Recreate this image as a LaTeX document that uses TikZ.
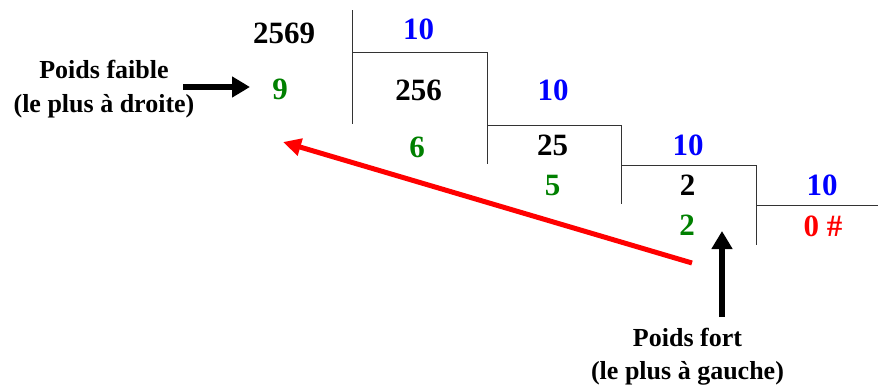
\documentclass[tikz,border=0pt]{standalone}
\usepackage{fontspec}
\setmainfont{Liberation Serif}
\usetikzlibrary{arrows.meta}
\definecolor{nblue}{RGB}{0,0,255}
\definecolor{ngreen}{RGB}{0,128,0}
\definecolor{nred}{RGB}{255,0,0}
\begin{document}
\begin{tikzpicture}[x=1pt,y=-1pt,
  num/.style={anchor=base, inner sep=0pt, font=\fontsize{31}{36}\selectfont\bfseries},
  lab/.style={anchor=base, inner sep=0pt, font=\fontsize{26}{30}\selectfont\bfseries},
  rule/.style={draw=black!80, line width=1pt},
  bigarrow/.style={line width=6pt, -{Triangle[length=18pt,width=20pt]}}]
\useasboundingbox (0,0) rectangle (878,388);

% division brackets
\draw[rule] (352,10) -- (352,124);
\draw[rule] (352,52) -- (487,52) -- (487,164);
\draw[rule] (487,125) -- (621,125) -- (621,204);
\draw[rule] (621,165) -- (756,165) -- (756,245);
\draw[rule] (756,205) -- (878,205);

% numbers
\node[num] (n2569) at (284,43) {2569};
\node[num, text=nblue] (d1) at (418.5,39) {10};
\node[num, text=ngreen] (r1) at (280,99) {9};
\node[num] (q1) at (418.5,100) {256};
\node[num, text=nblue] (d2) at (553,100) {10};
\node[num, text=ngreen] (r2) at (417,157) {6};
\node[num] (q2) at (552.5,155) {25};
\node[num, text=nblue] (d3) at (688,155) {10};
\node[num, text=ngreen] (r3) at (552.5,195) {5};
\node[num] (q3) at (687.5,195) {2};
\node[num, text=nblue] (d4) at (822,195) {10};
\node[num, text=ngreen] (r4) at (687,235) {2};
\node[num, text=nred] (q4) at (823,236) {0 \#};

% labels
\node[lab] (pf1) at (104,78) {Poids faible};
\node[lab] (pf2) at (104,112) {(le plus à droite)};
\node[lab] (pF1) at (687.5,346) {Poids fort};
\node[lab] (pF2) at (687.5,379) {(le plus à gauche)};

% arrows
\coordinate (fa) at (183,87);
\coordinate (ft) at (250,87);
\draw[bigarrow] (fa) -- (ft);
\coordinate (rs) at (692,263);
\coordinate (rt) at (283,142);
\draw[nred, line width=5pt, -{Triangle[length=18pt,width=17pt]}] (rs) -- (rt);
\coordinate (ua) at (722,317);
\coordinate (ut) at (722,231);
\draw[bigarrow] (ua) -- (ut);
\end{tikzpicture}
\end{document}
